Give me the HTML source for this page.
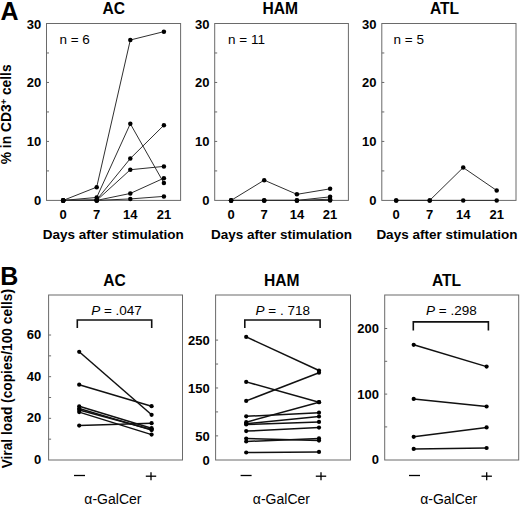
<!DOCTYPE html>
<html><head><meta charset="utf-8"><style>
html,body{margin:0;padding:0;background:#fff;}
body{width:520px;height:505px;overflow:hidden;}
svg{display:block;font-family:"Liberation Sans",sans-serif;}
text{fill:#000;}
</style></head><body>
<svg width="520" height="505" viewBox="0 0 520 505">
<rect width="520" height="505" fill="#fff"/>
<text x="0.5" y="19.5" font-size="25" font-weight="bold">A</text>
<rect x="46.5" y="23.5" width="134.1" height="176.9" fill="none" stroke="#6a6a6a" stroke-width="1"/>
<line x1="46.5" y1="170.91666666666669" x2="49.0" y2="170.91666666666669" stroke="#6a6a6a" stroke-width="1"/>
<line x1="46.5" y1="141.43333333333334" x2="49.0" y2="141.43333333333334" stroke="#6a6a6a" stroke-width="1"/>
<line x1="46.5" y1="111.95" x2="49.0" y2="111.95" stroke="#6a6a6a" stroke-width="1"/>
<line x1="46.5" y1="82.46666666666667" x2="49.0" y2="82.46666666666667" stroke="#6a6a6a" stroke-width="1"/>
<line x1="46.5" y1="52.98333333333335" x2="49.0" y2="52.98333333333335" stroke="#6a6a6a" stroke-width="1"/>
<text x="41.2" y="205.4" font-size="13" font-weight="bold" text-anchor="end" >0</text>
<text x="41.2" y="146.43333333333334" font-size="13" font-weight="bold" text-anchor="end" >10</text>
<text x="41.2" y="87.46666666666667" font-size="13" font-weight="bold" text-anchor="end" >20</text>
<text x="41.2" y="28.5" font-size="13" font-weight="bold" text-anchor="end" >30</text>
<text x="113.80000000000001" y="13.6" font-size="15.6" font-weight="bold" text-anchor="middle" >AC</text>
<text x="59.4" y="44.3" font-size="13.5" font-weight="normal" text-anchor="start" >n = 6</text>
<text x="63.2" y="218.8" font-size="13" font-weight="bold" text-anchor="middle" >0</text>
<text x="96.7" y="218.8" font-size="13" font-weight="bold" text-anchor="middle" >7</text>
<text x="130.3" y="218.8" font-size="13" font-weight="bold" text-anchor="middle" >14</text>
<text x="163.9" y="218.8" font-size="13" font-weight="bold" text-anchor="middle" >21</text>
<text x="113.2" y="239.0" font-size="13.5" font-weight="bold" text-anchor="middle" >Days after stimulation</text>
<polyline points="63.20,200.40 96.70,187.13 130.30,40.01 163.90,31.64" fill="none" stroke="#303030" stroke-width="1.0"/>
<polyline points="63.20,200.40 96.70,197.45 130.30,123.74 163.90,183.06" fill="none" stroke="#303030" stroke-width="1.0"/>
<polyline points="63.20,200.40 96.70,199.81 130.30,158.53 163.90,125.22" fill="none" stroke="#303030" stroke-width="1.0"/>
<polyline points="63.20,200.40 96.70,200.40 130.30,169.74 163.90,166.38" fill="none" stroke="#303030" stroke-width="1.0"/>
<polyline points="63.20,200.40 96.70,200.40 130.30,193.44 163.90,178.17" fill="none" stroke="#303030" stroke-width="1.0"/>
<polyline points="63.20,200.40 96.70,200.40 130.30,198.93 163.90,196.39" fill="none" stroke="#303030" stroke-width="1.0"/>
<circle cx="63.20" cy="200.40" r="2.25" fill="#000"/>
<circle cx="96.70" cy="187.13" r="2.25" fill="#000"/>
<circle cx="130.30" cy="40.01" r="2.25" fill="#000"/>
<circle cx="163.90" cy="31.64" r="2.25" fill="#000"/>
<circle cx="63.20" cy="200.40" r="2.25" fill="#000"/>
<circle cx="96.70" cy="197.45" r="2.25" fill="#000"/>
<circle cx="130.30" cy="123.74" r="2.25" fill="#000"/>
<circle cx="163.90" cy="183.06" r="2.25" fill="#000"/>
<circle cx="63.20" cy="200.40" r="2.25" fill="#000"/>
<circle cx="96.70" cy="199.81" r="2.25" fill="#000"/>
<circle cx="130.30" cy="158.53" r="2.25" fill="#000"/>
<circle cx="163.90" cy="125.22" r="2.25" fill="#000"/>
<circle cx="63.20" cy="200.40" r="2.25" fill="#000"/>
<circle cx="96.70" cy="200.40" r="2.25" fill="#000"/>
<circle cx="130.30" cy="169.74" r="2.25" fill="#000"/>
<circle cx="163.90" cy="166.38" r="2.25" fill="#000"/>
<circle cx="63.20" cy="200.40" r="2.25" fill="#000"/>
<circle cx="96.70" cy="200.40" r="2.25" fill="#000"/>
<circle cx="130.30" cy="193.44" r="2.25" fill="#000"/>
<circle cx="163.90" cy="178.17" r="2.25" fill="#000"/>
<circle cx="63.20" cy="200.40" r="2.25" fill="#000"/>
<circle cx="96.70" cy="200.40" r="2.25" fill="#000"/>
<circle cx="130.30" cy="198.93" r="2.25" fill="#000"/>
<circle cx="163.90" cy="196.39" r="2.25" fill="#000"/>
<rect x="214.7" y="23.5" width="133.7" height="176.9" fill="none" stroke="#6a6a6a" stroke-width="1"/>
<line x1="214.7" y1="170.91666666666669" x2="217.2" y2="170.91666666666669" stroke="#6a6a6a" stroke-width="1"/>
<line x1="214.7" y1="141.43333333333334" x2="217.2" y2="141.43333333333334" stroke="#6a6a6a" stroke-width="1"/>
<line x1="214.7" y1="111.95" x2="217.2" y2="111.95" stroke="#6a6a6a" stroke-width="1"/>
<line x1="214.7" y1="82.46666666666667" x2="217.2" y2="82.46666666666667" stroke="#6a6a6a" stroke-width="1"/>
<line x1="214.7" y1="52.98333333333335" x2="217.2" y2="52.98333333333335" stroke="#6a6a6a" stroke-width="1"/>
<text x="209.39999999999998" y="205.4" font-size="13" font-weight="bold" text-anchor="end" >0</text>
<text x="209.39999999999998" y="146.43333333333334" font-size="13" font-weight="bold" text-anchor="end" >10</text>
<text x="209.39999999999998" y="87.46666666666667" font-size="13" font-weight="bold" text-anchor="end" >20</text>
<text x="209.39999999999998" y="28.5" font-size="13" font-weight="bold" text-anchor="end" >30</text>
<text x="280.29999999999995" y="13.6" font-size="15.6" font-weight="bold" text-anchor="middle" >HAM</text>
<text x="228.0" y="44.3" font-size="13.5" font-weight="normal" text-anchor="start" >n = 11</text>
<text x="231.1" y="218.8" font-size="13" font-weight="bold" text-anchor="middle" >0</text>
<text x="264.2" y="218.8" font-size="13" font-weight="bold" text-anchor="middle" >7</text>
<text x="296.9" y="218.8" font-size="13" font-weight="bold" text-anchor="middle" >14</text>
<text x="330.1" y="218.8" font-size="13" font-weight="bold" text-anchor="middle" >21</text>
<text x="281.5" y="239.0" font-size="13.5" font-weight="bold" text-anchor="middle" >Days after stimulation</text>
<polyline points="231.10,200.40 264.20,180.17 296.90,194.33 330.10,188.84" fill="none" stroke="#303030" stroke-width="1.0"/>
<polyline points="231.10,200.40 264.20,200.40 296.90,200.40 330.10,196.86" fill="none" stroke="#303030" stroke-width="1.0"/>
<polyline points="231.10,200.40 264.20,200.40 296.90,200.40 330.10,199.22" fill="none" stroke="#303030" stroke-width="1.0"/>
<polyline points="231.10,200.40 264.20,200.40 296.90,200.40 330.10,200.40" fill="none" stroke="#303030" stroke-width="1.0"/>
<circle cx="231.10" cy="200.40" r="2.25" fill="#000"/>
<circle cx="264.20" cy="180.17" r="2.25" fill="#000"/>
<circle cx="296.90" cy="194.33" r="2.25" fill="#000"/>
<circle cx="330.10" cy="188.84" r="2.25" fill="#000"/>
<circle cx="231.10" cy="200.40" r="2.25" fill="#000"/>
<circle cx="264.20" cy="200.40" r="2.25" fill="#000"/>
<circle cx="296.90" cy="200.40" r="2.25" fill="#000"/>
<circle cx="330.10" cy="196.86" r="2.25" fill="#000"/>
<circle cx="231.10" cy="200.40" r="2.25" fill="#000"/>
<circle cx="264.20" cy="200.40" r="2.25" fill="#000"/>
<circle cx="296.90" cy="200.40" r="2.25" fill="#000"/>
<circle cx="330.10" cy="199.22" r="2.25" fill="#000"/>
<circle cx="231.10" cy="200.40" r="2.25" fill="#000"/>
<circle cx="264.20" cy="200.40" r="2.25" fill="#000"/>
<circle cx="296.90" cy="200.40" r="2.25" fill="#000"/>
<circle cx="330.10" cy="200.40" r="2.25" fill="#000"/>
<rect x="381.8" y="23.5" width="134.2" height="176.9" fill="none" stroke="#6a6a6a" stroke-width="1"/>
<line x1="381.8" y1="170.91666666666669" x2="384.3" y2="170.91666666666669" stroke="#6a6a6a" stroke-width="1"/>
<line x1="381.8" y1="141.43333333333334" x2="384.3" y2="141.43333333333334" stroke="#6a6a6a" stroke-width="1"/>
<line x1="381.8" y1="111.95" x2="384.3" y2="111.95" stroke="#6a6a6a" stroke-width="1"/>
<line x1="381.8" y1="82.46666666666667" x2="384.3" y2="82.46666666666667" stroke="#6a6a6a" stroke-width="1"/>
<line x1="381.8" y1="52.98333333333335" x2="384.3" y2="52.98333333333335" stroke="#6a6a6a" stroke-width="1"/>
<text x="376.5" y="205.4" font-size="13" font-weight="bold" text-anchor="end" >0</text>
<text x="376.5" y="146.43333333333334" font-size="13" font-weight="bold" text-anchor="end" >10</text>
<text x="376.5" y="87.46666666666667" font-size="13" font-weight="bold" text-anchor="end" >20</text>
<text x="376.5" y="28.5" font-size="13" font-weight="bold" text-anchor="end" >30</text>
<text x="444.5" y="13.6" font-size="15.6" font-weight="bold" text-anchor="middle" >ATL</text>
<text x="393.5" y="44.3" font-size="13.5" font-weight="normal" text-anchor="start" >n = 5</text>
<text x="396.2" y="218.8" font-size="13" font-weight="bold" text-anchor="middle" >0</text>
<text x="429.7" y="218.8" font-size="13" font-weight="bold" text-anchor="middle" >7</text>
<text x="463.2" y="218.8" font-size="13" font-weight="bold" text-anchor="middle" >14</text>
<text x="496.7" y="218.8" font-size="13" font-weight="bold" text-anchor="middle" >21</text>
<text x="446.9" y="239.0" font-size="13.5" font-weight="bold" text-anchor="middle" >Days after stimulation</text>
<polyline points="396.20,200.40 429.70,200.40 463.20,167.56 496.70,190.49" fill="none" stroke="#303030" stroke-width="1.0"/>
<polyline points="396.20,200.40 429.70,200.40 463.20,200.40 496.70,200.40" fill="none" stroke="#303030" stroke-width="1.0"/>
<circle cx="396.20" cy="200.40" r="2.25" fill="#000"/>
<circle cx="429.70" cy="200.40" r="2.25" fill="#000"/>
<circle cx="463.20" cy="167.56" r="2.25" fill="#000"/>
<circle cx="496.70" cy="190.49" r="2.25" fill="#000"/>
<circle cx="396.20" cy="200.40" r="2.25" fill="#000"/>
<circle cx="429.70" cy="200.40" r="2.25" fill="#000"/>
<circle cx="463.20" cy="200.40" r="2.25" fill="#000"/>
<circle cx="496.70" cy="200.40" r="2.25" fill="#000"/>
<text transform="translate(11,114.3) rotate(-90)" font-size="13.8" font-weight="bold" text-anchor="middle">% in CD3<tspan font-size="9.5" dy="-3.8">+</tspan><tspan dy="3.8"> cells</tspan></text>
<text x="0.3" y="284.8" font-size="25" font-weight="bold">B</text>
<rect x="48.6" y="295.0" width="133.9" height="165.0" fill="none" stroke="#6a6a6a" stroke-width="1"/>
<line x1="48.6" y1="439.17" x2="51.1" y2="439.17" stroke="#6a6a6a" stroke-width="1"/>
<line x1="48.6" y1="418.34" x2="51.1" y2="418.34" stroke="#6a6a6a" stroke-width="1"/>
<line x1="48.6" y1="397.51" x2="51.1" y2="397.51" stroke="#6a6a6a" stroke-width="1"/>
<line x1="48.6" y1="376.68" x2="51.1" y2="376.68" stroke="#6a6a6a" stroke-width="1"/>
<line x1="48.6" y1="355.85" x2="51.1" y2="355.85" stroke="#6a6a6a" stroke-width="1"/>
<line x1="48.6" y1="335.02" x2="51.1" y2="335.02" stroke="#6a6a6a" stroke-width="1"/>
<text x="41.2" y="464.0" font-size="13" font-weight="bold" text-anchor="end" >0</text>
<text x="41.2" y="422.34" font-size="13" font-weight="bold" text-anchor="end" >20</text>
<text x="41.2" y="380.68" font-size="13" font-weight="bold" text-anchor="end" >40</text>
<text x="41.2" y="339.02" font-size="13" font-weight="bold" text-anchor="end" >60</text>
<text x="114.5" y="286.1" font-size="15.6" font-weight="bold" text-anchor="middle" >AC</text>
<text x="116.5" y="314.9" font-size="13.5" text-anchor="middle"><tspan font-style="italic">P</tspan> = .047</text>
<polyline points="77.3,328.0 77.3,320.0 151.7,320.0 151.7,328.0" fill="none" stroke="#111" stroke-width="1.6"/>
<polyline points="79.20,351.80 151.60,414.80" fill="none" stroke="#111" stroke-width="1.5"/>
<polyline points="79.20,384.70 151.60,406.20" fill="none" stroke="#111" stroke-width="1.5"/>
<polyline points="79.20,425.60 151.60,423.20" fill="none" stroke="#111" stroke-width="1.5"/>
<polyline points="79.20,406.30 151.60,428.20" fill="none" stroke="#111" stroke-width="1.5"/>
<polyline points="79.20,408.50 151.60,430.10" fill="none" stroke="#111" stroke-width="1.5"/>
<polyline points="79.20,410.00 151.60,429.50" fill="none" stroke="#111" stroke-width="1.5"/>
<polyline points="79.20,412.10 151.60,434.60" fill="none" stroke="#111" stroke-width="1.5"/>
<circle cx="79.20" cy="351.80" r="2.1" fill="#000"/>
<circle cx="151.60" cy="414.80" r="2.1" fill="#000"/>
<circle cx="79.20" cy="384.70" r="2.1" fill="#000"/>
<circle cx="151.60" cy="406.20" r="2.1" fill="#000"/>
<circle cx="79.20" cy="425.60" r="2.1" fill="#000"/>
<circle cx="151.60" cy="423.20" r="2.1" fill="#000"/>
<circle cx="79.20" cy="406.30" r="2.1" fill="#000"/>
<circle cx="151.60" cy="428.20" r="2.1" fill="#000"/>
<circle cx="79.20" cy="408.50" r="2.1" fill="#000"/>
<circle cx="151.60" cy="430.10" r="2.1" fill="#000"/>
<circle cx="79.20" cy="410.00" r="2.1" fill="#000"/>
<circle cx="151.60" cy="429.50" r="2.1" fill="#000"/>
<circle cx="79.20" cy="412.10" r="2.1" fill="#000"/>
<circle cx="151.60" cy="434.60" r="2.1" fill="#000"/>
<line x1="74.0" y1="475.5" x2="85.0" y2="475.5" stroke="#000" stroke-width="1.3"/>
<line x1="145.8" y1="476.2" x2="156.2" y2="476.2" stroke="#000" stroke-width="1.3"/>
<line x1="151.0" y1="472.2" x2="151.0" y2="480.3" stroke="#000" stroke-width="1.3"/>
<text x="112.9" y="503.8" font-size="14" font-weight="normal" text-anchor="middle" >α-GalCer</text>
<rect x="215.6" y="295.0" width="134.9" height="165.0" fill="none" stroke="#6a6a6a" stroke-width="1"/>
<line x1="215.6" y1="435.86" x2="218.1" y2="435.86" stroke="#6a6a6a" stroke-width="1"/>
<line x1="215.6" y1="411.92" x2="218.1" y2="411.92" stroke="#6a6a6a" stroke-width="1"/>
<line x1="215.6" y1="387.98" x2="218.1" y2="387.98" stroke="#6a6a6a" stroke-width="1"/>
<line x1="215.6" y1="364.04" x2="218.1" y2="364.04" stroke="#6a6a6a" stroke-width="1"/>
<line x1="215.6" y1="340.1" x2="218.1" y2="340.1" stroke="#6a6a6a" stroke-width="1"/>
<text x="209.7" y="464.8" font-size="13" font-weight="bold" text-anchor="end" >0</text>
<text x="209.7" y="440.86" font-size="13" font-weight="bold" text-anchor="end" >50</text>
<text x="209.7" y="392.98" font-size="13" font-weight="bold" text-anchor="end" >150</text>
<text x="209.7" y="345.1" font-size="13" font-weight="bold" text-anchor="end" >250</text>
<text x="281.7" y="286.1" font-size="15.6" font-weight="bold" text-anchor="middle" >HAM</text>
<text x="282.8" y="314.9" font-size="13.5" text-anchor="middle"><tspan font-style="italic">P</tspan> = . 718</text>
<polyline points="244.8,327.9 244.8,320.0 320.1,320.0 320.1,327.9" fill="none" stroke="#111" stroke-width="1.6"/>
<polyline points="246.20,336.90 319.00,370.50" fill="none" stroke="#111" stroke-width="1.5"/>
<polyline points="246.20,400.90 319.00,372.70" fill="none" stroke="#111" stroke-width="1.5"/>
<polyline points="246.20,381.90 319.00,402.20" fill="none" stroke="#111" stroke-width="1.5"/>
<polyline points="246.20,422.20 319.00,402.20" fill="none" stroke="#111" stroke-width="1.5"/>
<polyline points="246.20,416.30 319.00,412.70" fill="none" stroke="#111" stroke-width="1.5"/>
<polyline points="246.20,423.70 319.00,416.50" fill="none" stroke="#111" stroke-width="1.5"/>
<polyline points="246.20,424.50 319.00,421.90" fill="none" stroke="#111" stroke-width="1.5"/>
<polyline points="246.20,431.10 319.00,427.60" fill="none" stroke="#111" stroke-width="1.5"/>
<polyline points="246.20,438.60 319.00,440.60" fill="none" stroke="#111" stroke-width="1.5"/>
<polyline points="246.20,441.50 319.00,438.40" fill="none" stroke="#111" stroke-width="1.5"/>
<polyline points="246.20,452.50 319.00,451.90" fill="none" stroke="#111" stroke-width="1.5"/>
<circle cx="246.20" cy="336.90" r="2.1" fill="#000"/>
<circle cx="319.00" cy="370.50" r="2.1" fill="#000"/>
<circle cx="246.20" cy="400.90" r="2.1" fill="#000"/>
<circle cx="319.00" cy="372.70" r="2.1" fill="#000"/>
<circle cx="246.20" cy="381.90" r="2.1" fill="#000"/>
<circle cx="319.00" cy="402.20" r="2.1" fill="#000"/>
<circle cx="246.20" cy="422.20" r="2.1" fill="#000"/>
<circle cx="319.00" cy="402.20" r="2.1" fill="#000"/>
<circle cx="246.20" cy="416.30" r="2.1" fill="#000"/>
<circle cx="319.00" cy="412.70" r="2.1" fill="#000"/>
<circle cx="246.20" cy="423.70" r="2.1" fill="#000"/>
<circle cx="319.00" cy="416.50" r="2.1" fill="#000"/>
<circle cx="246.20" cy="424.50" r="2.1" fill="#000"/>
<circle cx="319.00" cy="421.90" r="2.1" fill="#000"/>
<circle cx="246.20" cy="431.10" r="2.1" fill="#000"/>
<circle cx="319.00" cy="427.60" r="2.1" fill="#000"/>
<circle cx="246.20" cy="438.60" r="2.1" fill="#000"/>
<circle cx="319.00" cy="440.60" r="2.1" fill="#000"/>
<circle cx="246.20" cy="441.50" r="2.1" fill="#000"/>
<circle cx="319.00" cy="438.40" r="2.1" fill="#000"/>
<circle cx="246.20" cy="452.50" r="2.1" fill="#000"/>
<circle cx="319.00" cy="451.90" r="2.1" fill="#000"/>
<line x1="240.6" y1="475.5" x2="251.6" y2="475.5" stroke="#000" stroke-width="1.3"/>
<line x1="315.8" y1="476.2" x2="326.2" y2="476.2" stroke="#000" stroke-width="1.3"/>
<line x1="321.0" y1="472.2" x2="321.0" y2="480.3" stroke="#000" stroke-width="1.3"/>
<text x="281.4" y="503.8" font-size="14" font-weight="normal" text-anchor="middle" >α-GalCer</text>
<rect x="384.7" y="295.0" width="134.00000000000006" height="165.0" fill="none" stroke="#6a6a6a" stroke-width="1"/>
<line x1="384.7" y1="426.9" x2="387.2" y2="426.9" stroke="#6a6a6a" stroke-width="1"/>
<line x1="384.7" y1="394.09999999999997" x2="387.2" y2="394.09999999999997" stroke="#6a6a6a" stroke-width="1"/>
<line x1="384.7" y1="361.29999999999995" x2="387.2" y2="361.29999999999995" stroke="#6a6a6a" stroke-width="1"/>
<line x1="384.7" y1="328.5" x2="387.2" y2="328.5" stroke="#6a6a6a" stroke-width="1"/>
<text x="379.0" y="464.2" font-size="13" font-weight="bold" text-anchor="end" >0</text>
<text x="379.0" y="398.59999999999997" font-size="13" font-weight="bold" text-anchor="end" >100</text>
<text x="379.0" y="333.0" font-size="13" font-weight="bold" text-anchor="end" >200</text>
<text x="446.5" y="286.1" font-size="15.6" font-weight="bold" text-anchor="middle" >ATL</text>
<text x="451.4" y="314.9" font-size="13.5" text-anchor="middle"><tspan font-style="italic">P</tspan> = .298</text>
<polyline points="413.3,330.5 413.3,321.9 488.4,321.9 488.4,330.5" fill="none" stroke="#111" stroke-width="1.6"/>
<polyline points="413.70,344.80 486.60,366.60" fill="none" stroke="#111" stroke-width="1.5"/>
<polyline points="413.70,398.90 486.60,406.50" fill="none" stroke="#111" stroke-width="1.5"/>
<polyline points="413.70,436.80 486.60,427.40" fill="none" stroke="#111" stroke-width="1.5"/>
<polyline points="413.70,448.90 486.60,448.00" fill="none" stroke="#111" stroke-width="1.5"/>
<circle cx="413.70" cy="344.80" r="2.1" fill="#000"/>
<circle cx="486.60" cy="366.60" r="2.1" fill="#000"/>
<circle cx="413.70" cy="398.90" r="2.1" fill="#000"/>
<circle cx="486.60" cy="406.50" r="2.1" fill="#000"/>
<circle cx="413.70" cy="436.80" r="2.1" fill="#000"/>
<circle cx="486.60" cy="427.40" r="2.1" fill="#000"/>
<circle cx="413.70" cy="448.90" r="2.1" fill="#000"/>
<circle cx="486.60" cy="448.00" r="2.1" fill="#000"/>
<line x1="409.0" y1="475.5" x2="420.0" y2="475.5" stroke="#000" stroke-width="1.3"/>
<line x1="481.5" y1="476.2" x2="491.9" y2="476.2" stroke="#000" stroke-width="1.3"/>
<line x1="486.7" y1="472.2" x2="486.7" y2="480.3" stroke="#000" stroke-width="1.3"/>
<text x="448.7" y="503.8" font-size="14" font-weight="normal" text-anchor="middle" >α-GalCer</text>
<text transform="translate(11.8,378.7) rotate(-90)" font-size="13.75" font-weight="bold" text-anchor="middle">Viral load (copies/100 cells)</text>
</svg>
</body></html>
